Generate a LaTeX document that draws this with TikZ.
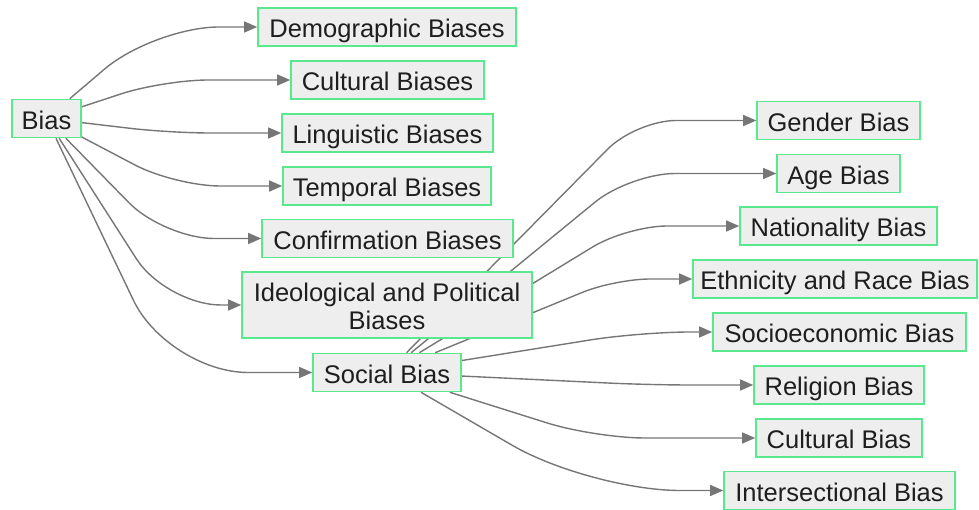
\documentclass[tikz,border=0pt]{standalone}
\usepackage{fontspec}
\setmainfont{Liberation Sans}
\usetikzlibrary{arrows.meta}
\pgfdeclarelayer{bg}
\pgfsetlayers{bg,main}
\definecolor{nodegreen}{RGB}{90,232,140}
\definecolor{nodefill}{RGB}{238,238,238}
\definecolor{edgegray}{RGB}{118,118,118}
\definecolor{txt}{RGB}{30,30,30}
\begin{document}
\begin{tikzpicture}[x=1pt,y=1pt,
  boxbase/.style={draw=nodegreen, line width=1.6pt, fill=nodefill, text=txt,
    font=\fontsize{25.5}{28}\selectfont, minimum height=38pt, inner sep=0pt, align=center},
  box/.style={boxbase, text height=21.5pt, text depth=0pt},
  edge/.style={draw=edgegray, line width=1.4pt, -{Triangle[length=13pt,width=11pt]}}]
\useasboundingbox (0,0) rectangle (979,-510);

\node[box, minimum width=69pt]  (bias)  at (46.5,-118.5) {Bias};
\node[box, minimum width=258pt] (demo)  at (387,-27)  {Demographic Biases};
\node[box, minimum width=193pt] (cult)  at (387.5,-80)  {Cultural Biases};
\node[box, minimum width=211pt] (ling)  at (387.5,-133) {Linguistic Biases};
\node[box, minimum width=208pt] (temp)  at (387,-186) {Temporal Biases};
\node[box, minimum width=251pt] (conf)  at (387.5,-238.5) {Confirmation Biases};
\node[boxbase, minimum width=290pt, minimum height=66pt, text height=49pt, text depth=0pt] (ideo) at (387,-305) {Ideological and Political\\Biases};
\node[box, minimum width=148pt] (soc)   at (387,-372.5) {Social Bias};

\node[box, minimum width=163pt] (gend)  at (838.5,-120.5) {Gender Bias};
\node[box, minimum width=123pt] (age)   at (838.5,-173.5) {Age Bias};
\node[box, minimum width=197pt] (nat)   at (838.5,-226) {Nationality Bias};
\node[box, minimum width=284pt] (eth)   at (835,-279) {Ethnicity and Race Bias};
\node[box, minimum width=253pt] (socio) at (839.5,-332) {Socioeconomic Bias};
\node[box, minimum width=170pt] (rel)   at (839,-385) {Religion Bias};
\node[box, minimum width=166pt] (cb)    at (839,-438) {Cultural Bias};
\node[box, minimum width=231pt] (inter) at (839.5,-490.5) {Intersectional Bias};

\begin{pgfonlayer}{bg}
\draw[edge, rounded corners=65pt] (bias) -- (154,-27)    -- (demo.west);
\draw[edge, rounded corners=45pt] (bias) -- (163,-80)    -- (cult.west);
\draw[edge, rounded corners=40pt] (bias) -- (170,-133)   -- (ling.west);
\draw[edge, rounded corners=45pt] (bias) -- (175,-186)   -- (temp.west);
\draw[edge, rounded corners=50pt] (bias) -- (164,-238.5) -- (conf.west);
\draw[edge, rounded corners=55pt] (bias) -- (166,-305)   -- (ideo.west);
\draw[edge, rounded corners=80pt] (bias) -- (168,-372.5) -- (soc.west);

\draw[edge, rounded corners=40pt] (soc) -- (636,-120.5) -- (gend.west);
\draw[edge, rounded corners=45pt] (soc) -- (630,-173.5) -- (age.west);
\draw[edge, rounded corners=40pt] (soc) -- (627,-226)   -- (nat.west);
\draw[edge, rounded corners=35pt] (soc) -- (615,-279)   -- (eth.west);
\draw[edge, rounded corners=50pt] (soc) -- (640,-332)   -- (socio.west);
\draw[edge, rounded corners=40pt] (soc) -- (650,-385)   -- (rel.west);
\draw[edge, rounded corners=50pt] (soc) -- (595,-438)   -- (cb.west);
\draw[edge, rounded corners=90pt] (soc) -- (590,-490.5) -- (inter.west);
\end{pgfonlayer}
\end{tikzpicture}
\end{document}
